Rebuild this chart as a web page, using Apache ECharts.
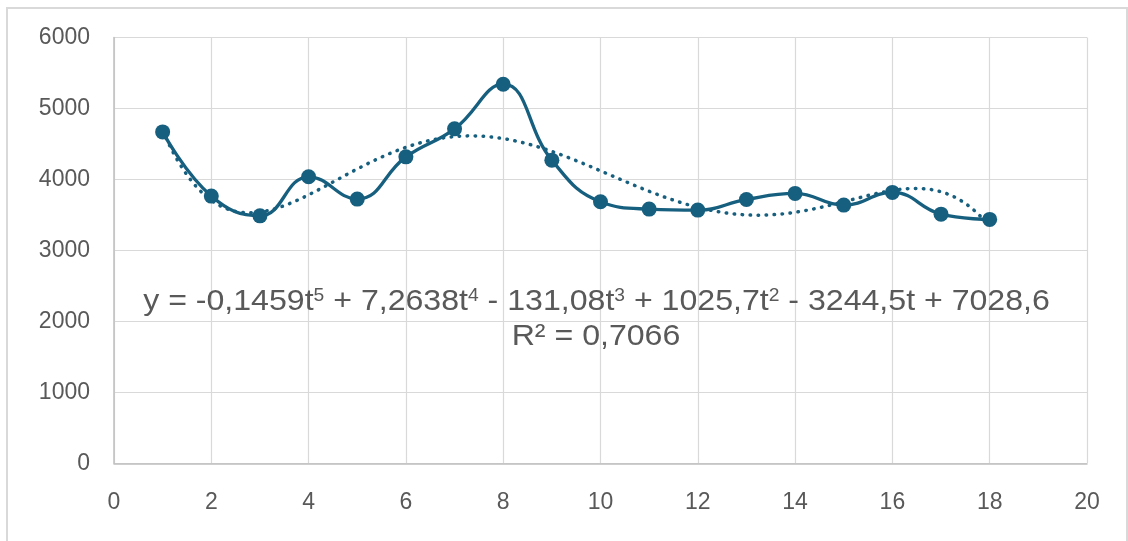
<!DOCTYPE html>
<html>
<head>
<meta charset="utf-8">
<script src="https://cdn.jsdelivr.net/npm/echarts@6/dist/echarts.min.js"></script>
<style>
  html, body { margin: 0; padding: 0; background: #ffffff; }
  #chart { width: 1128px; height: 541px; }
</style>
</head>
<body>
<div id="chart"></div>
<script>
// Observed values, t = 1 .. 18
const periods = [1, 2, 3, 4, 5, 6, 7, 8, 9, 10, 11, 12, 13, 14, 15, 16, 17, 18];
const values = [4670, 3765, 3487, 4037, 3723, 4318, 4713, 5342, 4272, 3685, 3582, 3568, 3718, 3803, 3638, 3817, 3511, 3437];

// Polynomial trend (degree 5), coefficients from t^5 down to the constant term
const trendCoefficients = [-0.1459, 7.2638, -131.08, 1025.7, -3244.5, 7028.6];
const r2Label = 'R² = 0,7066';

const xTicks = [0, 2, 4, 6, 8, 10, 12, 14, 16, 18, 20];
const yTicks = [0, 1000, 2000, 3000, 4000, 5000, 6000];

const lineColor = '#175f7f';
const textColor = '#595959';
const fontFamily = 'Liberation Sans, Arial, sans-serif';

// Evaluate the trend polynomial at t (Horner form)
function trendAt(t) {
  return trendCoefficients.reduce((acc, c) => acc * t + c, 0);
}
const trendPoints = [];
for (let t = periods[0]; t <= periods[periods.length - 1] + 1e-9; t += 0.1) {
  trendPoints.push([+t.toFixed(2), trendAt(t)]);
}

// Equation text: "y = -0,1459t⁵ + 7,2638t⁴ - 131,08t³ + 1025,7t² - 3244,5t + 7028,6"
const fmt = (n) => String(Math.abs(n)).replace('.', ',');
const c = trendCoefficients;
const sign = (n) => (n < 0 ? ' - ' : ' + ');
const equationRich =
  '{b|y = ' + (c[0] < 0 ? '-' : '') + fmt(c[0]) + 't}{s|5}' +
  '{b|' + sign(c[1]) + fmt(c[1]) + 't}{s|4}' +
  '{b|' + sign(c[2]) + fmt(c[2]) + 't}{s|3}' +
  '{b|' + sign(c[3]) + fmt(c[3]) + 't}{s|2}' +
  '{b|' + sign(c[4]) + fmt(c[4]) + 't' + sign(c[5]) + fmt(c[5]) + '}';

const chart = echarts.init(document.getElementById('chart'), null, { renderer: 'canvas' });

chart.setOption({
  animation: false,
  backgroundColor: '#ffffff',
  grid: { left: 114, right: 41, top: 37.5, bottom: 77.7, containLabel: false },
  xAxis: {
    type: 'value',
    min: xTicks[0],
    max: xTicks[xTicks.length - 1],
    interval: 2,
    axisLine: { show: true, lineStyle: { color: '#bfbfbf', width: 1.5 } },
    axisTick: { show: false },
    axisLabel: { color: textColor, fontSize: 23, fontFamily: fontFamily, margin: 28 },
    splitLine: { show: true, lineStyle: { color: '#d9d9d9', width: 1.2 } }
  },
  yAxis: {
    type: 'value',
    min: yTicks[0],
    max: yTicks[yTicks.length - 1],
    interval: 1000,
    axisLine: { show: true, lineStyle: { color: '#bfbfbf', width: 1.5 } },
    axisTick: { show: false },
    axisLabel: {
      color: textColor, fontSize: 23, fontFamily: fontFamily, margin: 24,
      formatter: (v) => String(v)
    },
    splitLine: { show: true, lineStyle: { color: '#d9d9d9', width: 1.2 } }
  },
  series: [
    {
      name: 'trend',
      type: 'line',
      data: trendPoints,
      showSymbol: false,
      smooth: false,
      silent: true,
      z: 2,
      lineStyle: { color: lineColor, width: 3.5, type: [0.5, 7.5], cap: 'round' }
    },
    {
      name: 'values',
      type: 'line',
      data: periods.map((t, i) => [t, values[i]]),
      smooth: 0.45,
      symbol: 'circle',
      symbolSize: 15,
      z: 3,
      itemStyle: { color: lineColor },
      lineStyle: { color: lineColor, width: 3.3 }
    }
  ],
  graphic: [
    {
      type: 'rect',
      shape: { x: 7, y: 8, width: 1120, height: 600 },
      style: { fill: 'none', stroke: '#d9d9d9', lineWidth: 2 },
      z: -1,
      silent: true
    },
    {
      type: 'text',
      x: 596.5,
      y: 287,
      scaleX: 1.07,
      style: {
        text: equationRich,
        align: 'center',
        verticalAlign: 'top',
        rich: {
          b: { fontSize: 30, fontFamily: fontFamily, fill: textColor, lineHeight: 30, verticalAlign: 'bottom' },
          s: { fontSize: 18, fontFamily: fontFamily, fill: textColor, lineHeight: 18, verticalAlign: 'top' }
        }
      },
      z: 10
    },
    {
      type: 'text',
      x: 596,
      y: 322,
      scaleX: 1.07,
      style: {
        text: r2Label,
        align: 'center',
        verticalAlign: 'top',
        fontSize: 30,
        lineHeight: 30,
        fontFamily: fontFamily,
        fill: textColor
      },
      z: 10
    }
  ]
});
</script>
</body>
</html>
